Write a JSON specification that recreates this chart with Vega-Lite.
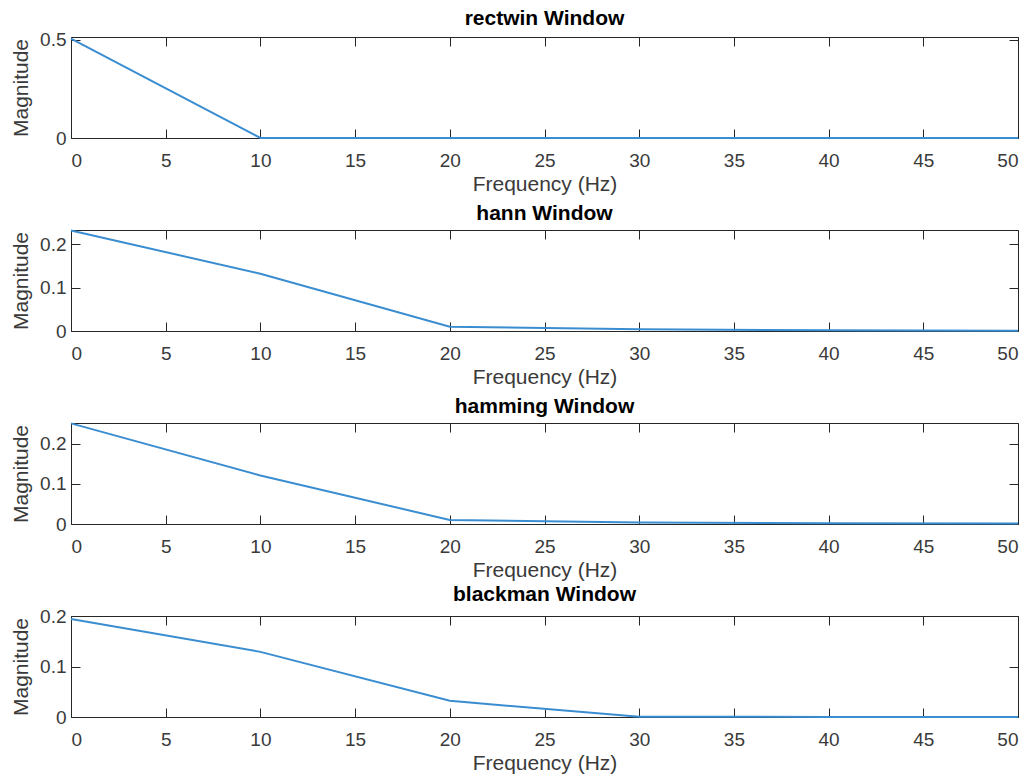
{
  "$schema": "https://vega.github.io/schema/vega-lite/v6.json",
  "background": "#ffffff",
  "padding": {"left": 10, "top": 7, "right": 10, "bottom": 5},
  "bounds": "flush",
  "spacing": 92,
  "datasets": {
    "spec": [
      {"window": "rectwin", "freq": 0, "mag": 0.507},
      {"window": "rectwin", "freq": 10, "mag": 0.0},
      {"window": "rectwin", "freq": 20, "mag": 0.0},
      {"window": "rectwin", "freq": 30, "mag": 0.0},
      {"window": "rectwin", "freq": 40, "mag": 0.0},
      {"window": "rectwin", "freq": 50, "mag": 0.0},
      {"window": "hann", "freq": 0, "mag": 0.232},
      {"window": "hann", "freq": 10, "mag": 0.132},
      {"window": "hann", "freq": 20, "mag": 0.010},
      {"window": "hann", "freq": 30, "mag": 0.004},
      {"window": "hann", "freq": 40, "mag": 0.0015},
      {"window": "hann", "freq": 50, "mag": 0.0005},
      {"window": "hamming", "freq": 0, "mag": 0.251},
      {"window": "hamming", "freq": 10, "mag": 0.121},
      {"window": "hamming", "freq": 20, "mag": 0.010},
      {"window": "hamming", "freq": 30, "mag": 0.004},
      {"window": "hamming", "freq": 40, "mag": 0.002},
      {"window": "hamming", "freq": 50, "mag": 0.001},
      {"window": "blackman", "freq": 0, "mag": 0.194},
      {"window": "blackman", "freq": 10, "mag": 0.129},
      {"window": "blackman", "freq": 20, "mag": 0.032},
      {"window": "blackman", "freq": 30, "mag": 0.0005},
      {"window": "blackman", "freq": 40, "mag": 0.0002},
      {"window": "blackman", "freq": 50, "mag": 0.0001}
    ]
  },
  "data": {"name": "spec"},
  "vconcat": [
    {
      "width": 947, "height": 101,
      "title": {"text": "rectwin Window"},
      "transform": [{"filter": "datum.window === 'rectwin'"}],
      "layer": [
        {
          "mark": {"type": "line", "opacity": 0},
          "encoding": {
            "x": {"field": "freq", "type": "quantitative", "scale": {"domain": [0, 50], "nice": false},
                  "axis": {"orient": "top", "values": [0,5,10,15,20,25,30,35,40,45,50], "labels": false, "title": null}},
            "y": {"field": "mag", "type": "quantitative", "scale": {"domain": [0, 0.515], "nice": false},
                  "axis": {"orient": "right", "values": [0, 0.5], "labels": false, "title": null}}
          }
        },
        {
          "mark": {"type": "line", "color": "#3a8dd0", "strokeWidth": 2},
          "encoding": {
            "x": {"field": "freq", "type": "quantitative",
                  "axis": {"orient": "bottom", "values": [0,5,10,15,20,25,30,35,40,45,50], "format": "d", "title": "Frequency (Hz)"}},
            "y": {"field": "mag", "type": "quantitative",
                  "axis": {"orient": "left", "values": [0, 0.5], "format": "~g", "title": "Magnitude"}}
          }
        }
      ],
      "resolve": {"axis": {"x": "independent", "y": "independent"}}
    },
    {
      "width": 947, "height": 101,
      "title": {"text": "hann Window"},
      "transform": [{"filter": "datum.window === 'hann'"}],
      "layer": [
        {
          "mark": {"type": "line", "opacity": 0},
          "encoding": {
            "x": {"field": "freq", "type": "quantitative", "scale": {"domain": [0, 50], "nice": false},
                  "axis": {"orient": "top", "values": [0,5,10,15,20,25,30,35,40,45,50], "labels": false, "title": null}},
            "y": {"field": "mag", "type": "quantitative", "scale": {"domain": [0, 0.233], "nice": false},
                  "axis": {"orient": "right", "values": [0, 0.1, 0.2], "labels": false, "title": null}}
          }
        },
        {
          "mark": {"type": "line", "color": "#3a8dd0", "strokeWidth": 2},
          "encoding": {
            "x": {"field": "freq", "type": "quantitative",
                  "axis": {"orient": "bottom", "values": [0,5,10,15,20,25,30,35,40,45,50], "format": "d", "title": "Frequency (Hz)"}},
            "y": {"field": "mag", "type": "quantitative",
                  "axis": {"orient": "left", "values": [0, 0.1, 0.2], "format": "~g", "title": "Magnitude"}}
          }
        }
      ],
      "resolve": {"axis": {"x": "independent", "y": "independent"}}
    },
    {
      "width": 947, "height": 101,
      "title": {"text": "hamming Window"},
      "transform": [{"filter": "datum.window === 'hamming'"}],
      "layer": [
        {
          "mark": {"type": "line", "opacity": 0},
          "encoding": {
            "x": {"field": "freq", "type": "quantitative", "scale": {"domain": [0, 50], "nice": false},
                  "axis": {"orient": "top", "values": [0,5,10,15,20,25,30,35,40,45,50], "labels": false, "title": null}},
            "y": {"field": "mag", "type": "quantitative", "scale": {"domain": [0, 0.252], "nice": false},
                  "axis": {"orient": "right", "values": [0, 0.1, 0.2], "labels": false, "title": null}}
          }
        },
        {
          "mark": {"type": "line", "color": "#3a8dd0", "strokeWidth": 2},
          "encoding": {
            "x": {"field": "freq", "type": "quantitative",
                  "axis": {"orient": "bottom", "values": [0,5,10,15,20,25,30,35,40,45,50], "format": "d", "title": "Frequency (Hz)"}},
            "y": {"field": "mag", "type": "quantitative",
                  "axis": {"orient": "left", "values": [0, 0.1, 0.2], "format": "~g", "title": "Magnitude"}}
          }
        }
      ],
      "resolve": {"axis": {"x": "independent", "y": "independent"}}
    },
    {
      "width": 947, "height": 101,
      "title": {"text": "blackman Window"},
      "transform": [{"filter": "datum.window === 'blackman'"}],
      "layer": [
        {
          "mark": {"type": "line", "opacity": 0},
          "encoding": {
            "x": {"field": "freq", "type": "quantitative", "scale": {"domain": [0, 50], "nice": false},
                  "axis": {"orient": "top", "values": [0,5,10,15,20,25,30,35,40,45,50], "labels": false, "title": null}},
            "y": {"field": "mag", "type": "quantitative", "scale": {"domain": [0, 0.2], "nice": false},
                  "axis": {"orient": "right", "values": [0, 0.1, 0.2], "labels": false, "title": null}}
          }
        },
        {
          "mark": {"type": "line", "color": "#3a8dd0", "strokeWidth": 2},
          "encoding": {
            "x": {"field": "freq", "type": "quantitative",
                  "axis": {"orient": "bottom", "values": [0,5,10,15,20,25,30,35,40,45,50], "format": "d", "title": "Frequency (Hz)"}},
            "y": {"field": "mag", "type": "quantitative",
                  "axis": {"orient": "left", "values": [0, 0.1, 0.2], "format": "~g", "title": "Magnitude"}}
          }
        }
      ],
      "resolve": {"axis": {"x": "independent", "y": "independent"}}
    }
  ],
  "config": {
    "view": {"stroke": null},
    "font": "Liberation Sans",
    "title": {"font": "Liberation Sans", "fontSize": 21, "fontWeight": "bold", "color": "#000000", "anchor": "middle", "offset": 2},
    "axis": {
      "grid": false,
      "domainColor": "#262626", "domainWidth": 1,
      "tickColor": "#262626", "tickWidth": 1, "tickSize": -9,
      "labelColor": "#3a3a3a", "labelFont": "Liberation Sans", "labelFontSize": 19,
      "titleColor": "#3a3a3a", "titleFont": "Liberation Sans", "titleFontSize": 21, "titleFontWeight": "normal"
    },
    "axisBottom": {"labelPadding": 22, "titlePadding": 3},
    "axisLeft": {"labelPadding": 14, "titlePadding": 8},
    "axisTop": {"labelPadding": 0},
    "axisRight": {"labelPadding": 0}
  }
}
